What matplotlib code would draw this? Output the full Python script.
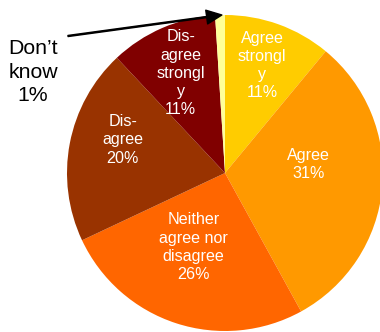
import matplotlib.pyplot as plt
import numpy as np

plt.rcParams['font.family'] = ['Liberation Sans', 'DejaVu Sans']

# Respostas (sentido horário a partir do topo)
labels = ['Agree\nstrongl\ny', 'Agree', 'Neither\nagree nor\ndisagree', 'Dis-\nagree', 'Dis-\nagree\nstrongl\ny', "Don\u2019t\nknow"]
values = [11, 31, 26, 20, 11, 1]
colors = ['#FFCC00', '#FF9900', '#FF6600', '#993300', '#800000', '#FFFF99']

# posição dos rótulos dentro das fatias (fração do raio, ângulo horário do topo)
label_r = [0.72, 0.53, 0.51, 0.68, 0.69]
label_ang = [19, 84, 203, 288, 336]

W, H = 380, 332
fig = plt.figure(figsize=(W / 100, H / 100), dpi=100)
cx, cy, r = 225, 332 - 173, 158
ax = fig.add_axes([(cx - r) / W, (cy - r) / H, 2 * r / W, 2 * r / H])

ax.pie(values, colors=colors, startangle=90, counterclock=False,
       radius=1, wedgeprops=dict(linewidth=0))
ax.set_xlim(-1, 1)
ax.set_ylim(-1, 1)
ax.set_aspect('equal')
ax.axis('off')

for i in range(5):
    a = np.deg2rad(label_ang[i])
    x, y = label_r[i] * np.sin(a), label_r[i] * np.cos(a)
    ax.text(x, y, f"{labels[i]}\n{values[i]}%", color='white', fontsize=11.6,
            ha='center', va='center', linespacing=1.27)

# rótulo da fatia pequena, fora do gráfico, com seta
fig.text(33 / W, 1 - 72 / H, f"{labels[5]}\n{values[5]}%", ha='center', va='center',
         fontsize=15.3, linespacing=1.3)
ax.annotate("", xy=(-0.02, 1.0), xytext=(68, 332 - 36),
            textcoords='figure pixels', annotation_clip=False,
            arrowprops=dict(facecolor='black', edgecolor='black', width=0.8,
                            headwidth=10, headlength=11, shrink=0))

fig.savefig('out.png', dpi=100)
